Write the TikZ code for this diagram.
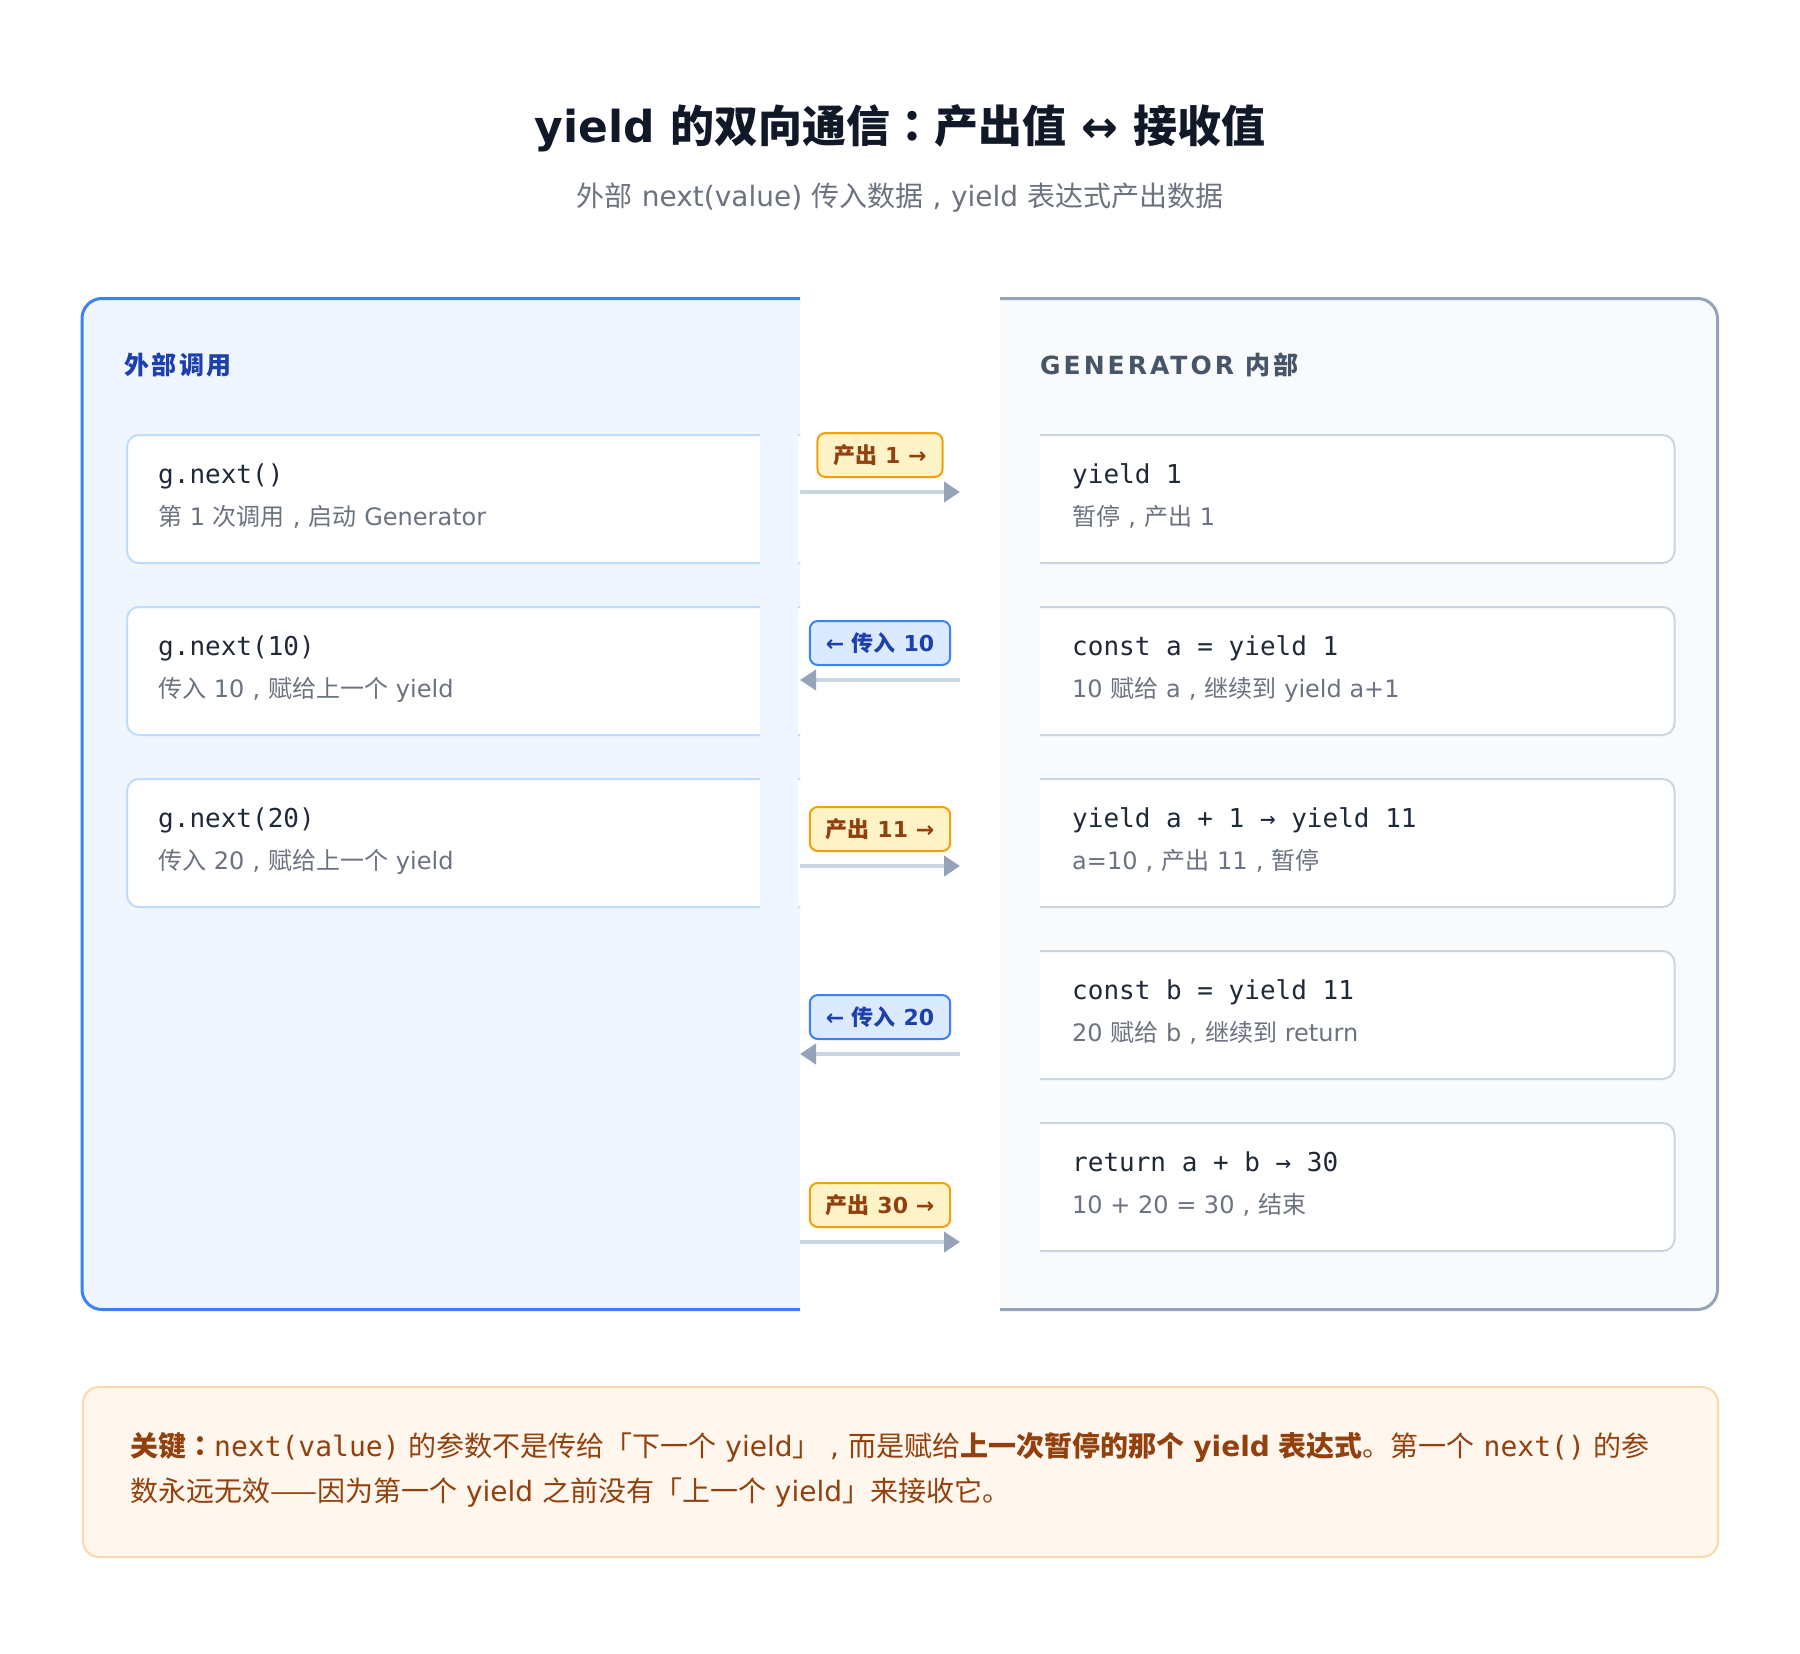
\documentclass[tikz,border=0pt]{standalone}
\usepackage{fontspec}
\setmainfont{DejaVu Sans}
\setmonofont{DejaVu Sans Mono}
\newfontfamily\cjkr{Noto Sans CJK SC}
\newfontfamily\cjktc{Noto Sans CJK TC}
\newfontfamily\spacedlat[LetterSpace=12]{DejaVu Sans}
\newfontfamily\spacedcjk[LetterSpace=10]{Noto Sans CJK SC}
\usetikzlibrary{arrows.meta}
\newcommand\zh[1]{{\cjkr #1}}
\newcommand\zhb[1]{{\cjkr\bfseries #1}}
\newcommand\pc{\makebox[1em]{,}}
\newcommand\pcb{{\cjktc\bfseries ：}}
\newcommand\ncode[1]{{\ttfamily #1}}
\definecolor{c-title}{HTML}{111827}
\definecolor{c-sub}{HTML}{6B7280}
\definecolor{c-lborder}{HTML}{3B82F6}
\definecolor{c-lfill}{HTML}{EFF6FF}
\definecolor{c-rborder}{HTML}{94A3B8}
\definecolor{c-rfill}{HTML}{F8FAFC}
\definecolor{c-lcard}{HTML}{BFDBFE}
\definecolor{c-rcard}{HTML}{CBD5E1}
\definecolor{c-lhead}{HTML}{1E40AF}
\definecolor{c-rhead}{HTML}{475569}
\definecolor{c-code}{HTML}{1F2937}
\definecolor{c-desc}{HTML}{6B7280}
\definecolor{c-line}{HTML}{CBD5E1}
\definecolor{c-tip}{HTML}{94A3B8}
\definecolor{c-yfill}{HTML}{FEF3C7}
\definecolor{c-yborder}{HTML}{F59E0B}
\definecolor{c-ytext}{HTML}{92400E}
\definecolor{c-bfill}{HTML}{DBEAFE}
\definecolor{c-notefill}{HTML}{FFF7ED}
\definecolor{c-noteborder}{HTML}{FED7AA}
\begin{document}
\begin{tikzpicture}[x=1pt,y=-1pt,
  leftpanel/.style={draw=c-lborder,fill=c-lfill,line width=3pt,rounded corners=20pt},
  rightpanel/.style={draw=c-rborder,fill=c-rfill,line width=3pt,rounded corners=20pt},
  cardbase/.style={fill=white,line width=2pt,rounded corners=12pt,minimum width=700pt,minimum height=128pt,inner sep=0pt},
  lcard/.style={cardbase,draw=c-lcard,anchor=north west},
  rcard/.style={cardbase,draw=c-rcard,anchor=north east},
  codetxt/.style={anchor=base west,inner sep=0pt,text=c-code,font=\fontsize{26}{30}\selectfont\ttfamily},
  desctxt/.style={anchor=base west,inner sep=0pt,text=c-desc,font=\fontsize{24}{28}\selectfont},
  headtxt/.style={anchor=base west,inner sep=0pt,font=\fontsize{25}{29}\selectfont\bfseries},
  badge/.style={rounded corners=8pt,line width=2pt,minimum height=44pt,inner xsep=16pt,inner ysep=0pt,font=\fontsize{22}{26}\selectfont\bfseries},
  ybadge/.style={badge,draw=c-yborder,fill=c-yfill,text=c-ytext},
  bbadge/.style={badge,draw=c-lborder,fill=c-bfill,text=c-lhead},
  flow/.style={draw=c-line,line width=4pt,-{Triangle[length=16pt,width=20pt,color=c-tip]}},
  notetxt/.style={anchor=base west,inner sep=0pt,text=c-ytext,font=\fontsize{28}{32}\selectfont}
]
\useasboundingbox[fill=white] (0,0) rectangle (1800,1654);

% title
\node[anchor=base,inner sep=0pt,text=c-title,font=\fontsize{44}{52}\selectfont\bfseries] (title) at (900,142)
  {yield \zhb{的双向通信}{\cjktc\bfseries ：}\zhb{产出值} ↔ \zhb{接收值}};
\node[anchor=base,inner sep=0pt,text=c-sub,font=\fontsize{28}{32}\selectfont] (subtitle) at (900,206)
  {\zh{外部} next(value) \zh{传入数据}\pc yield \zh{表达式产出数据}};

% panels
\begin{scope}
  \clip (0,0) rectangle (800,1654);
  \draw[leftpanel] (82,298.5) rectangle (1000,1309.5);
  \node[lcard] (L1) at (126,434) {};
  \node[lcard] (L2) at (126,606) {};
  \node[lcard] (L3) at (126,778) {};
\end{scope}
\begin{scope}
  \clip (760,0) rectangle (800,1654);
  \fill[c-lfill] (760,420) rectangle (798,920);
\end{scope}
\begin{scope}
  \clip (1000,0) rectangle (1800,1654);
  \draw[rightpanel] (800,298.5) rectangle (1717.5,1309.5);
\end{scope}
\begin{scope}
  \clip (1040,0) rectangle (1800,1654);
  \node[rcard] (R1) at (1675.5,434) {};
  \node[rcard] (R2) at (1675.5,606) {};
  \node[rcard] (R3) at (1675.5,778) {};
  \node[rcard] (R4) at (1675.5,950) {};
  \node[rcard] (R5) at (1675.5,1122) {};
\end{scope}

% headings
\node[headtxt,text=c-lhead] (lhead) at (124,374) {\spacedcjk\bfseries 外部调用};
\node[headtxt,text=c-rhead] (rhead) at (1040,374) {\spacedlat\bfseries GENERATOR \spacedcjk\bfseries 内部};

% left card texts
\node[codetxt] (L1c) at (158,483) {g.next()};
\node[desctxt] (L1d) at (158,525) {\zh{第} 1 \zh{次调用}\pc\zh{启动} Generator};
\node[codetxt] (L2c) at (158,655) {g.next(10)};
\node[desctxt] (L2d) at (158,697) {\zh{传入} 10\pc\zh{赋给上一个} yield};
\node[codetxt] (L3c) at (158,827) {g.next(20)};
\node[desctxt] (L3d) at (158,869) {\zh{传入} 20\pc\zh{赋给上一个} yield};

% right card texts
\node[codetxt] (R1c) at (1072,483) {yield 1};
\node[desctxt] (R1d) at (1072,525) {\zh{暂停}\pc\zh{产出} 1};
\node[codetxt] (R2c) at (1072,655) {const a = yield 1};
\node[desctxt] (R2d) at (1072,697) {10 \zh{赋给} a\pc\zh{继续到} yield a+1};
\node[codetxt] (R3c) at (1072,827) {yield a + 1 → yield 11};
\node[desctxt] (R3d) at (1072,869) {a=10\pc\zh{产出} 11\pc\zh{暂停}};
\node[codetxt] (R4c) at (1072,999) {const b = yield 11};
\node[desctxt] (R4d) at (1072,1041) {20 \zh{赋给} b\pc\zh{继续到} return};
\node[codetxt] (R5c) at (1072,1171) {return a + b → 30};
\node[desctxt] (R5d) at (1072,1213) {10 + 20 = 30\pc\zh{结束}};

% flow arrows
\foreach \i/\yy in {1/492,2/680,3/866,4/1054,5/1242} {
  \coordinate (pL\i) at (800,\yy);
  \coordinate (pR\i) at (960,\yy);
}
\draw[flow] (pL1) -- (pR1);
\draw[flow] (pR2) -- (pL2);
\draw[flow] (pL3) -- (pR3);
\draw[flow] (pR4) -- (pL4);
\draw[flow] (pL5) -- (pR5);

% badges
\node[ybadge] (B1) at (880,455) {\zhb{产出} 1 →};
\node[bbadge] (B2) at (880,643) {← \zhb{传入} 10};
\node[ybadge] (B3) at (880,829) {\zhb{产出} 11 →};
\node[bbadge] (B4) at (880,1017) {← \zhb{传入} 20};
\node[ybadge] (B5) at (880,1205) {\zhb{产出} 30 →};

% note
\node[draw=c-noteborder,fill=c-notefill,line width=2pt,rounded corners=16pt,anchor=north west,
      minimum width=1635pt,minimum height=170pt,inner sep=0pt] (note) at (82,1386) {};
\node[notetxt] (note1) at (130,1456)
  {\zhb{关键}\pcb\ncode{next(value)} \zh{的参数不是传给「下一个} yield\zh{」}\pc\zh{而是赋给}\zhb{上一次暂停的那个} \textbf{yield} \zhb{表达式}\zh{。第一个} \ncode{next()} \zh{的参}};
\node[notetxt] (note2) at (130,1501)
  {\zh{数永远无效——因为第一个} yield \zh{之前没有「上一个} yield\zh{」来接收它。}};
\end{tikzpicture}
\end{document}
